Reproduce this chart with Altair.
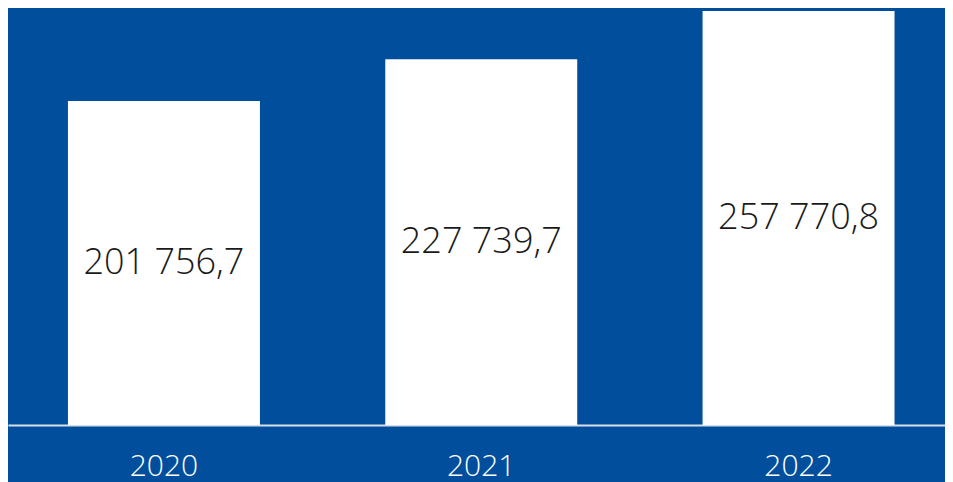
import altair as alt
import pandas as pd

years = ["2020", "2021", "2022"]
values = [201756.7, 227739.7, 257770.8]
labels = ["201 756,7", "227 739,7", "257 770,8"]

df = pd.DataFrame({"year": years, "value": values, "label": labels})
df["mid"] = df["value"] / 2

BG = "#014f9c"
FONT = "Open Sans"

x = alt.X(
    "year:N",
    sort=years,
    scale=alt.Scale(paddingInner=0.395, paddingOuter=0.174, align=0.543),
    axis=alt.Axis(
        title=None,
        domainColor="#d9dfe9",
        domainWidth=2,
        ticks=False,
        labelColor="white",
        labelFontSize=30,
        labelFont=FONT,
        labelFontWeight=300,
        labelAngle=0,
        labelBaseline="middle",
        labelPadding=41,
    ),
)

bars = alt.Chart(df).mark_bar(color="white").encode(
    x=x,
    y=alt.Y("value:Q", scale=alt.Scale(domain=[0, 259620], nice=False), axis=None),
)

text = alt.Chart(df).mark_text(
    color="#1a1a1a", fontSize=36, font=FONT, fontWeight=300, baseline="middle"
).encode(
    x=alt.X("year:N", sort=years),
    y=alt.Y("mid:Q"),
    text="label:N",
)

chart = (
    alt.layer(bars, text)
    .properties(
        width=937,
        height=417,
        autosize=alt.AutoSizeParams(type="none"),
        padding={"left": 0, "top": 0, "right": 0, "bottom": 57},
        background=BG,
    )
    .configure_view(stroke=None)
)

chart.save("out.html", embed_options={"renderer": "svg", "actions": False})
